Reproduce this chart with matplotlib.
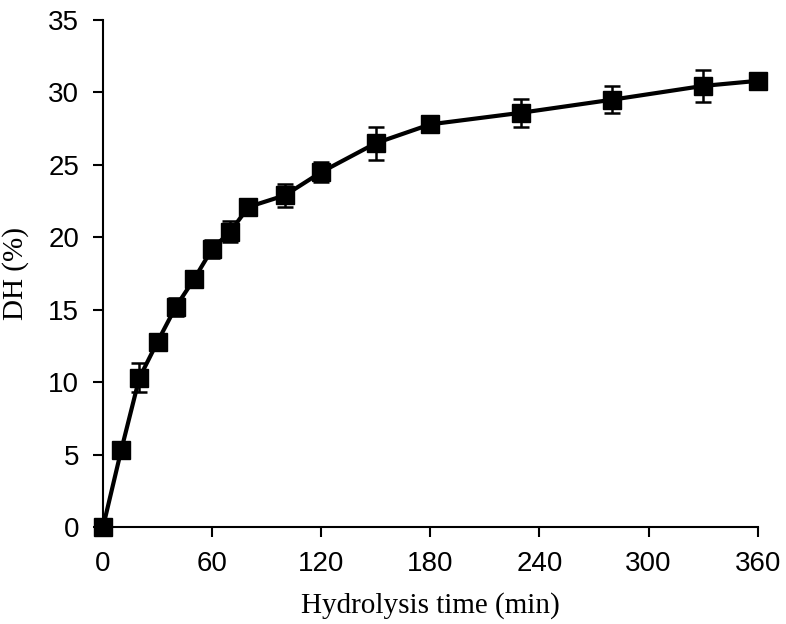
import numpy as np
import matplotlib
matplotlib.use("Agg")
import matplotlib.pyplot as plt

# degree of hydrolysis over time
time_min = [0, 10, 20, 30, 40, 50, 60, 70, 80, 100, 120, 150, 180, 230, 280, 330, 360]
dh = [0, 5.3, 10.3, 12.8, 15.2, 17.1, 19.2, 20.4, 22.1, 22.9, 24.5, 26.5, 27.8, 28.6, 29.5, 30.45, 30.8]
dh_err = [0.1, 0.2, 1.0, 0.5, 0.6, 0.4, 0.6, 0.7, 0.3, 0.8, 0.7, 1.15, 0.4, 0.95, 0.95, 1.1, 0.5]
xticks = [0, 60, 120, 180, 240, 300, 360]
yticks = [0, 5, 10, 15, 20, 25, 30, 35]

fig = plt.figure(figsize=(7.86, 6.24), dpi=100)
ax = fig.add_axes([0.131, 0.155, 0.833, 0.813])

ax.errorbar(time_min, dh, yerr=dh_err, color="black", lw=3, marker="s",
            markersize=12.5, elinewidth=1.8, capsize=6, capthick=1.8,
            clip_on=False, zorder=3)

ax.set_xlim(0, 360)
ax.set_ylim(0, 35)
ax.set_xticks(xticks)
ax.set_yticks(yticks)
for s in ["top", "right"]:
    ax.spines[s].set_visible(False)
for s in ["left", "bottom"]:
    ax.spines[s].set_linewidth(1.5)
ax.tick_params(direction="out", length=7, width=1.5, labelsize=20, pad=10)
for lab in ax.get_xticklabels() + ax.get_yticklabels():
    lab.set_family("Liberation Sans")

ax.set_xlabel("Hydrolysis time (min)", family="Liberation Serif", fontsize=21, labelpad=11)
ax.set_ylabel("DH (%)", family="Liberation Serif", fontsize=21, labelpad=14)

fig.savefig("out.png", dpi=100)
